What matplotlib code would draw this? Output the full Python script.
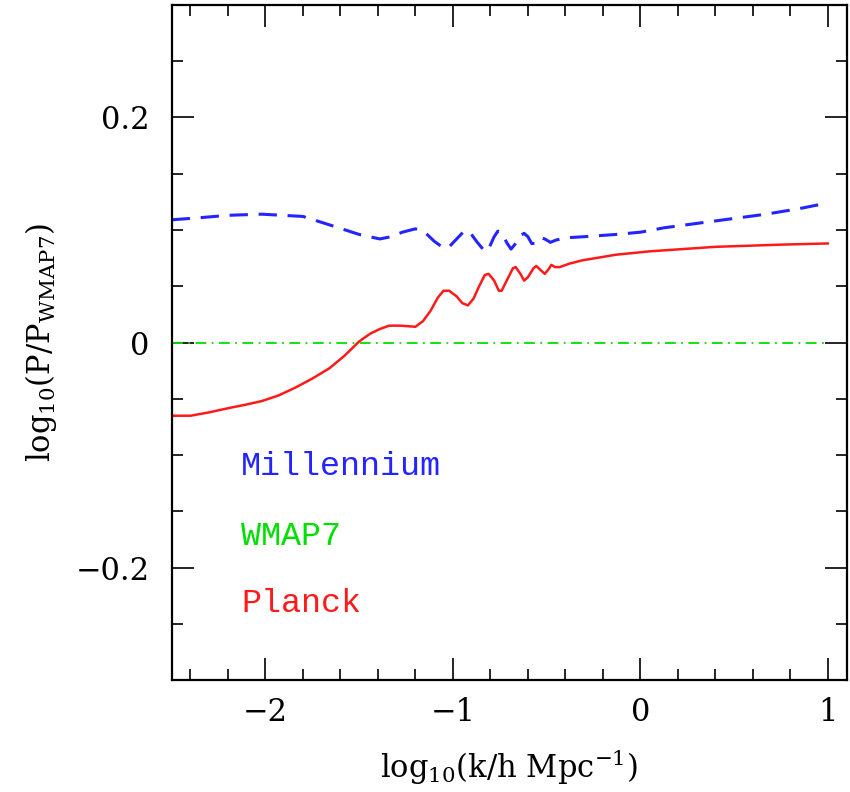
import numpy as np
import matplotlib
matplotlib.use('Agg')
import matplotlib.pyplot as plt
from matplotlib.ticker import MultipleLocator, FuncFormatter

plt.rcParams['font.family'] = ['DejaVu Serif']
plt.rcParams['mathtext.fontset'] = 'dejavuserif'

# Millennium / WMAP7
k_mill = [-2.5, -2.34, -2.2, -2.02, -1.8, -1.63, -1.5, -1.39, -1.33, -1.27, -1.2, -1.15, -1.1,
          -1.05, -1.02, -0.98, -0.94, -0.91, -0.87, -0.83, -0.81, -0.78, -0.76, -0.74, -0.71,
          -0.69, -0.67, -0.64, -0.62, -0.6, -0.58, -0.56, -0.53, -0.51, -0.48, -0.45, -0.4,
          -0.3, -0.13, 0.0, 0.13, 0.4, 0.67, 0.85, 1.0]
mill = [0.109, 0.111, 0.113, 0.114, 0.112, 0.103, 0.096, 0.092, 0.094, 0.098, 0.101, 0.098, 0.090,
        0.084, 0.085, 0.092, 0.099, 0.098, 0.089, 0.081, 0.083, 0.094, 0.099, 0.097, 0.088,
        0.083, 0.087, 0.095, 0.097, 0.094, 0.088, 0.088, 0.093, 0.092, 0.089, 0.091, 0.093,
        0.094, 0.096, 0.098, 0.102, 0.108, 0.114, 0.119, 0.124]

# Planck / WMAP7
k_planck = [-2.5, -2.4, -2.3, -2.19, -2.1, -2.02, -1.93, -1.84, -1.75, -1.66, -1.58, -1.5, -1.44,
            -1.39, -1.34, -1.28, -1.2,
            -1.16, -1.12, -1.08, -1.05, -1.02, -0.98, -0.95, -0.92, -0.89, -0.86, -0.83, -0.81,
            -0.78, -0.755, -0.74, -0.71, -0.68, -0.665, -0.64, -0.62, -0.6, -0.57, -0.555,
            -0.53, -0.51, -0.49, -0.475, -0.455, -0.43, -0.38, -0.31, -0.13, 0.05, 0.4, 0.76, 1.0]
planck = [-0.065, -0.065, -0.062, -0.058, -0.055, -0.052, -0.047, -0.040, -0.032, -0.023, -0.012, 0.001, 0.008,
          0.012, 0.015, 0.015, 0.014,
          0.019, 0.028, 0.040, 0.046, 0.046, 0.041, 0.035, 0.033, 0.039, 0.050, 0.060, 0.061,
          0.055, 0.046, 0.046, 0.056, 0.066, 0.067, 0.061, 0.055, 0.058, 0.066, 0.068,
          0.064, 0.061, 0.065, 0.069, 0.067, 0.067, 0.070, 0.073, 0.078, 0.081, 0.085, 0.087, 0.088]

# WMAP7 reference
k_wmap = [-2.5, 1.0]
wmap = [0.0, 0.0]

names = ['Millennium', 'WMAP7', 'Planck']
colors = ['#2424ff', '#00e000', '#ff1a1a']

fig = plt.figure(figsize=(8.5, 7.92), dpi=100)
ax = fig.add_axes([0.202, 0.141, 0.794, 0.853])

ax.plot(k_mill, mill, color=colors[0], lw=2.2, dashes=(6, 3.5))
ax.plot(k_wmap, wmap, color=colors[1], lw=1.3, dashes=(6, 3, 1, 3))
ax.plot(k_planck, planck, color=colors[2], lw=1.8)

ax.set_xlim(-2.5, 1.1)
ax.set_ylim(-0.3, 0.3)

ax.xaxis.set_major_locator(MultipleLocator(1))
ax.xaxis.set_minor_locator(MultipleLocator(0.2))
ax.yaxis.set_major_locator(MultipleLocator(0.2))
ax.yaxis.set_minor_locator(MultipleLocator(0.05))

def fmt(v, pos):
    if abs(v) < 1e-9:
        return '0'
    return ('%g' % v).replace('-', '\u2212')
ax.xaxis.set_major_formatter(FuncFormatter(fmt))
ax.yaxis.set_major_formatter(FuncFormatter(fmt))

ax.tick_params(which='both', direction='in', top=True, right=True, width=1.2, labelsize=22)
ax.tick_params(axis='x', pad=12)
ax.tick_params(axis='y', pad=16)
ax.tick_params(which='major', length=16)
ax.tick_params(which='minor', length=8)
for s in ax.spines.values():
    s.set_linewidth(1.6)

ax.set_xlabel(r'log$_{10}$(k/h Mpc$^{-1}$)', fontsize=22, labelpad=14)
ax.set_ylabel(r'log$_{10}$(P/P$_{\rm WMAP7}$)', fontsize=22, labelpad=12)

label_y = [-0.11, -0.172, -0.232]
for name, c, yy in zip(names, colors, label_y):
    ax.text(-2.13, yy, name, color=c, fontsize=24, va='center', ha='left',
            family='Liberation Mono')

fig.savefig('out.png', dpi=100)
